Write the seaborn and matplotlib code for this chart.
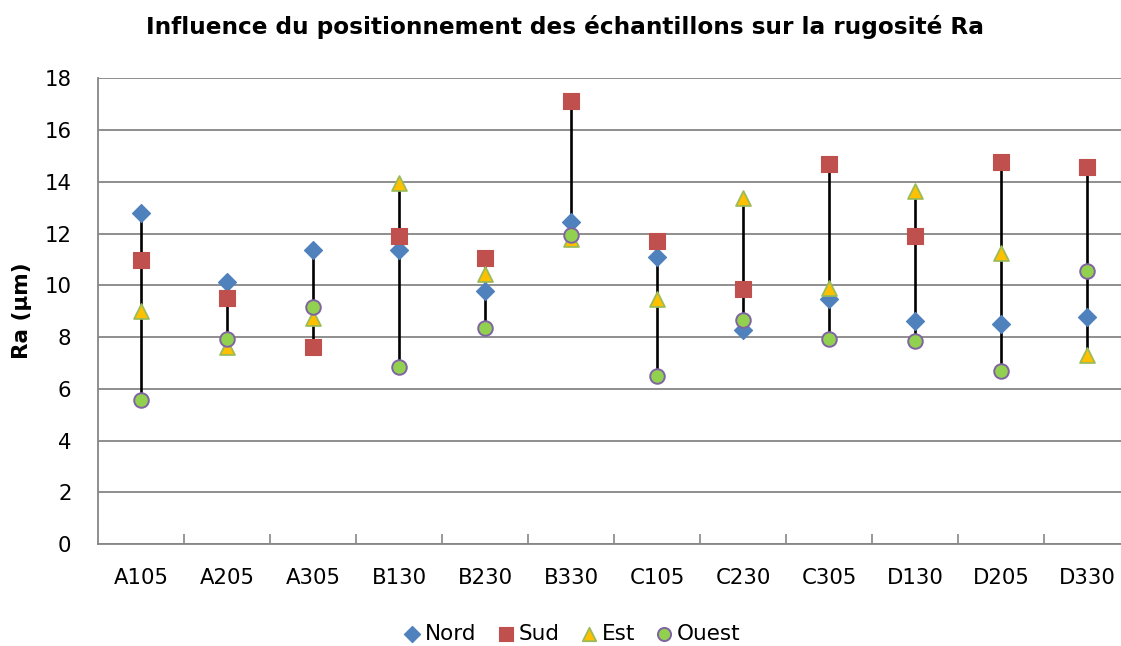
import matplotlib
matplotlib.use("Agg")
import matplotlib.pyplot as plt
import seaborn as sns
import numpy as np

# Roughness Ra (µm) per sample and orientation
samples = ["A105", "A205", "A305", "B130", "B230", "B330",
           "C105", "C230", "C305", "D130", "D205", "D330"]
nord = [12.81, 10.11, 11.35, 11.35, 9.78, 12.43, 11.08, 8.27, 9.46, 8.63, 8.49, 8.79]
sud = [10.98, 9.50, 7.61, 11.92, 11.07, 17.14, 11.72, 9.84, 14.69, 11.90, 14.77, 14.56]
est = [9.02, 7.60, 8.75, 13.94, 10.43, 11.78, 9.48, 13.37, 9.88, 13.66, 11.23, 7.32]
ouest = [5.55, 7.91, 9.16, 6.85, 8.36, 11.94, 6.49, 8.66, 7.91, 7.86, 6.69, 10.56]
y_ticks = [0, 2, 4, 6, 8, 10, 12, 14, 16, 18]

sns.set_theme(style="white")
plt.rcParams["font.family"] = ["DejaVu Sans"]
plt.rcParams["text.color"] = "black"
plt.rcParams["axes.labelcolor"] = "black"
plt.rcParams["xtick.labelcolor"] = "black"
plt.rcParams["ytick.labelcolor"] = "black"

W, H = 1121, 646
fig = plt.figure(figsize=(W / 100, H / 100), dpi=100)
ax = fig.add_axes([98 / W, 1 - 544 / H, 1032 / W, (544 - 78.3) / H])

x = np.arange(len(samples))
all_vals = np.array([nord, sud, est, ouest])

# High-low lines spanning each sample's range
ax.vlines(x, all_vals.min(axis=0), all_vals.max(axis=0),
          color="black", linewidth=1.9, zorder=2)

series = [
    ("Nord", nord, "D", "#4F81BD", "#4F81BD", 0.8, 85),
    ("Sud", sud, "s", "#C0504D", "#C0504D", 0.8, 125),
    ("Est", est, "^", "#FFC000", "#9BBB59", 1.3, 115),
    ("Ouest", ouest, "o", "#92D050", "#8064A2", 1.4, 110),
]
for name, vals, mk, fc, ec, lw, size in series:
    sns.scatterplot(x=x, y=vals, marker=mk, color=fc, edgecolor=ec,
                    linewidth=lw, s=size, label=name, ax=ax, zorder=3)

ax.set_xlim(-0.5, len(samples) - 0.5)
ax.set_ylim(0, 18)
ax.set_yticks(y_ticks)
ax.set_yticklabels([str(t) for t in y_ticks], fontsize=15.3)
ax.set_xticks(x)
ax.set_xticklabels(samples, fontsize=15.3)
ax.set_xticks(np.arange(0.5, len(samples) - 0.5, 1), minor=True)
ax.tick_params(axis="x", which="major", length=0, pad=17)
ax.tick_params(axis="x", which="minor", direction="in", length=7,
               width=1.2, color="#868686", bottom=True)
ax.tick_params(axis="y", length=0, pad=19)

ax.grid(axis="y", color="#868686", linewidth=1.3)
ax.grid(axis="x", visible=False)
ax.set_axisbelow(True)
for side in ["top", "right"]:
    ax.spines[side].set_visible(False)
for side in ["left", "bottom"]:
    ax.spines[side].set_color("#868686")
    ax.spines[side].set_linewidth(1.3)

ax.set_ylabel("Ra (µm)", fontsize=15.5, fontweight="bold")
ax.yaxis.label.set_verticalalignment("center")
ax.yaxis.set_label_coords((22.5 - 98) / 1032, 0.5)
ax.set_xlabel("")
fig.text(565 / W, 1 - 34.3 / H,
         "Influence du positionnement des échantillons sur la rugosité Ra",
         ha="center", va="baseline", fontsize=16.7, fontweight="bold")

ax.legend(loc="center", bbox_to_anchor=(570 / W, 1 - 634 / H),
          bbox_transform=fig.transFigure, ncol=4, frameon=False,
          fontsize=15.5, handletextpad=0.0, columnspacing=0.75,
          handlelength=1.2, borderaxespad=0, markerscale=0.9)

fig.savefig("out.png", dpi=100)
